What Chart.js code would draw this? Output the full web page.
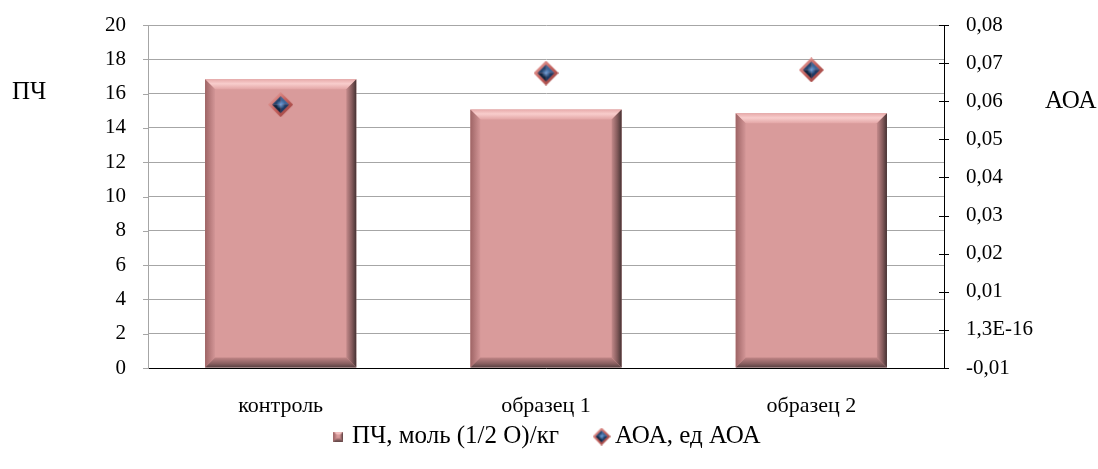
<!DOCTYPE html>
<html>
<head>
<meta charset="utf-8">
<script src="https://cdn.jsdelivr.net/npm/chart.js@4.4.1/dist/chart.umd.min.js"></script>
<style>
  html, body { margin: 0; padding: 0; background: #ffffff; }
</style>
</head>
<body>
<canvas id="c" width="1098" height="469"></canvas>
<script>
// Data
const categories = ['контроль', 'образец 1', 'образец 2'];
const pchValues = [16.84, 15.08, 14.85];          // ПЧ, моль (1/2 O)/кг
const aoaValues = [0.0591, 0.0674, 0.0682];       // АОА, ед АОА
const aoaTickLabels = ['-0,01', '1,3E-16', '0,01', '0,02', '0,03', '0,04', '0,05', '0,06', '0,07', '0,08'];
const pchSeriesName = 'ПЧ, моль (1/2 O)/кг';
const aoaSeriesName = 'АОА, ед АОА';
const leftTitle = 'ПЧ';
const rightTitle = 'АОА';

const FONT = '"Liberation Serif", "Times New Roman", serif';

// Diamond marker with a reddish rim and a dark blue pyramid face
function makeDiamond(size) {
  const cv = document.createElement('canvas');
  cv.width = size; cv.height = size;
  const g = cv.getContext('2d');
  const c = size / 2;
  const rim = g.createLinearGradient(0, 0, size, size);
  rim.addColorStop(0, '#efb3b0');
  rim.addColorStop(0.5, '#c4605c');
  rim.addColorStop(1, '#8f3a38');
  g.fillStyle = rim;
  g.beginPath();
  g.moveTo(c, 0); g.lineTo(size, c); g.lineTo(c, size); g.lineTo(0, c);
  g.closePath(); g.fill();
  const k = Math.max(2, Math.round(size * 0.16));
  const pts = [[c, k], [size - k, c], [c, size - k], [k, c]];
  const shades = ['#3d6699', '#1c3a63', '#10243f', '#24456f'];
  for (let i = 0; i < 4; i++) {
    const a = pts[i], b = pts[(i + 1) % 4];
    g.fillStyle = shades[i];
    g.beginPath();
    g.moveTo(c, c); g.lineTo(a[0], a[1]); g.lineTo(b[0], b[1]);
    g.closePath(); g.fill();
  }
  const hl = g.createRadialGradient(c, c, 0, c, c, size * 0.18);
  hl.addColorStop(0, 'rgba(120,170,230,0.9)');
  hl.addColorStop(1, 'rgba(120,170,230,0)');
  g.fillStyle = hl;
  g.fillRect(0, 0, size, size);
  return cv;
}

// Bevelled rectangle (used for the bars and their legend swatch)
function drawBevel(ctx, l, t, r, b, s) {
  ctx.save();
  // top
  let gr = ctx.createLinearGradient(0, t, 0, t + s);
  gr.addColorStop(0, '#e7aaaa');
  gr.addColorStop(0.45, '#f8cdcc');
  gr.addColorStop(1, '#e3a6a6');
  ctx.fillStyle = gr;
  ctx.beginPath();
  ctx.moveTo(l, t); ctx.lineTo(r, t); ctx.lineTo(r - s, t + s); ctx.lineTo(l + s, t + s);
  ctx.closePath(); ctx.fill();
  // left
  gr = ctx.createLinearGradient(l, 0, l + s, 0);
  gr.addColorStop(0, '#9e6465');
  gr.addColorStop(1, '#d39697');
  ctx.fillStyle = gr;
  ctx.beginPath();
  ctx.moveTo(l, t); ctx.lineTo(l + s, t + s); ctx.lineTo(l + s, b - s); ctx.lineTo(l, b);
  ctx.closePath(); ctx.fill();
  // right
  gr = ctx.createLinearGradient(r - s, 0, r, 0);
  gr.addColorStop(0, '#c48a8b');
  gr.addColorStop(0.55, '#865c5d');
  gr.addColorStop(1, '#453233');
  ctx.fillStyle = gr;
  ctx.beginPath();
  ctx.moveTo(r, t); ctx.lineTo(r, b); ctx.lineTo(r - s, b - s); ctx.lineTo(r - s, t + s);
  ctx.closePath(); ctx.fill();
  // bottom
  gr = ctx.createLinearGradient(0, b - s, 0, b);
  gr.addColorStop(0, '#c08586');
  gr.addColorStop(0.6, '#8a5f60');
  gr.addColorStop(1, '#564041');
  ctx.fillStyle = gr;
  ctx.beginPath();
  ctx.moveTo(l, b); ctx.lineTo(r, b); ctx.lineTo(r - s, b - s); ctx.lineTo(l + s, b - s);
  ctx.closePath(); ctx.fill();
  ctx.restore();
}

function makeSwatch(size) {
  const cv = document.createElement('canvas');
  cv.width = size; cv.height = size;
  const g = cv.getContext('2d');
  g.fillStyle = '#d99b9b';
  g.fillRect(0, 0, size, size);
  drawBevel(g, 0, 0, size, size, size * 0.35);
  return cv;
}

const pointMarker = makeDiamond(25);
const legendDiamond = makeDiamond(18);
const legendSwatch = makeSwatch(10);

const bevelPlugin = {
  id: 'bevel',
  afterDatasetDraw(chart, args) {
    if (args.index !== 0) return;
    const ctx = chart.ctx;
    args.meta.data.forEach(el => {
      const p = el.getProps(['x', 'y', 'base', 'width'], true);
      const l = p.x - p.width / 2, r = p.x + p.width / 2;
      drawBevel(ctx, l, p.y, r, p.base, 10);
    });
  }
};

const decorPlugin = {
  id: 'decor',
  afterDraw(chart) {
    const ctx = chart.ctx;
    const y = chart.scales.y;
    const y1 = chart.scales.y1;
    ctx.save();
    ctx.lineWidth = 1;
    // short outside tick marks on the primary axis
    ctx.strokeStyle = '#a6a6a6';
    y.ticks.forEach((t, i) => {
      const py = Math.round(y.getPixelForTick(i)) + 0.5;
      ctx.beginPath();
      ctx.moveTo(y.right - 5, py); ctx.lineTo(y.right, py);
      ctx.stroke();
    });
    // tick marks crossing the secondary axis
    ctx.strokeStyle = '#000000';
    y1.ticks.forEach((t, i) => {
      const py = Math.round(y1.getPixelForTick(i)) + 0.5;
      ctx.beginPath();
      ctx.moveTo(y1.left - 5, py); ctx.lineTo(y1.left + 5, py);
      ctx.stroke();
    });
    // axis titles
    ctx.fillStyle = '#000000';
    ctx.font = '25px ' + FONT;
    ctx.textBaseline = 'middle';
    ctx.textAlign = 'left';
    ctx.fillText(leftTitle, 12, 92);
    ctx.fillText(rightTitle, 1045, 101);
    ctx.restore();
  }
};

new Chart(document.getElementById('c'), {
  data: {
    labels: categories,
    datasets: [
      {
        type: 'bar',
        label: pchSeriesName,
        data: pchValues,
        yAxisID: 'y',
        backgroundColor: '#d99b9b',
        borderWidth: 0,
        categoryPercentage: 1,
        barPercentage: 0.57,
        order: 1
      },
      {
        type: 'line',
        label: aoaSeriesName,
        data: aoaValues,
        yAxisID: 'y1',
        showLine: false,
        pointStyle: pointMarker,
        pointRadius: 12,
        order: 0
      }
    ]
  },
  options: {
    responsive: false,
    devicePixelRatio: 1,
    animation: false,
    layout: { padding: { top: 25, bottom: 10, left: 0, right: 0 } },
    plugins: {
      tooltip: { enabled: false },
      legend: {
        position: 'bottom',
        labels: {
          usePointStyle: true,
          boxWidth: 2,
          boxHeight: 18,
          padding: 4,
          color: '#000000',
          font: { family: FONT, size: 25 },
          generateLabels() {
            return [
              { text: pchSeriesName + '\u00a0\u00a0\u00a0\u00a0\u00a0\u00a0', pointStyle: legendSwatch, datasetIndex: 0, fillStyle: '#d99b9b', strokeStyle: '#d99b9b', lineWidth: 0 },
              { text: aoaSeriesName, pointStyle: legendDiamond, datasetIndex: 1, fillStyle: '#1c3a63', strokeStyle: '#1c3a63', lineWidth: 0 }
            ];
          }
        }
      }
    },
    scales: {
      x: {
        grid: { display: false, drawTicks: false },
        border: { color: '#000000', width: 1 },
        ticks: { color: '#000000', font: { family: FONT, size: 22 }, padding: 25 },
        afterFit(scale) { scale.height = 52; }
      },
      y: {
        position: 'left',
        min: 0, max: 20,
        ticks: { stepSize: 2, color: '#000000', font: { family: FONT, size: 21 }, padding: 0 },
        grid: { color: '#a6a6a6', tickColor: 'rgba(0,0,0,0)', tickLength: 22 },
        border: { color: '#a6a6a6' },
        afterFit(scale) { scale.width = 148; }
      },
      y1: {
        position: 'right',
        min: -0.01, max: 0.08,
        ticks: {
          stepSize: 0.01,
          color: '#000000',
          font: { family: FONT, size: 21 },
          padding: 0,
          callback: (v, i) => aoaTickLabels[i]
        },
        grid: { drawOnChartArea: false, drawTicks: true, tickColor: 'rgba(0,0,0,0)', tickLength: 22 },
        border: { color: '#000000' },
        afterFit(scale) { scale.width = 154; }
      }
    }
  },
  plugins: [bevelPlugin, decorPlugin]
});
</script>
</body>
</html>
